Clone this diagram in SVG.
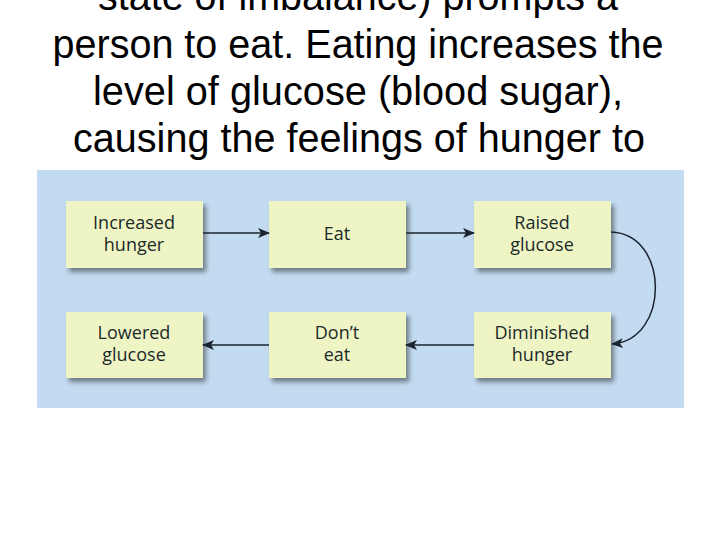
<svg xmlns="http://www.w3.org/2000/svg" width="720" height="540" viewBox="0 0 720 540">
<defs>
<filter id="sh" x="-20%" y="-20%" width="150%" height="160%">
<feGaussianBlur in="SourceAlpha" stdDeviation="2.5"/>
<feOffset dx="3" dy="4" result="b"/>
<feComponentTransfer><feFuncA type="linear" slope="0.45"/></feComponentTransfer>
<feMerge><feMergeNode/><feMergeNode in="SourceGraphic"/></feMerge>
</filter>
<marker id="ah" viewBox="0 0 12 10" refX="11" refY="5" markerWidth="12" markerHeight="10" markerUnits="userSpaceOnUse" orient="auto">
<path d="M0,0 L12,5 L0,10 L3,5 Z" fill="#1b2430"/>
</marker>
</defs>
<style>
.head{font-family:"Liberation Sans",Arial,sans-serif;font-size:41px;fill:#000;text-anchor:middle}
.box{fill:#eef4c4;filter:url(#sh)}
.lbl{font-family:"Open Sans","Noto Sans",sans-serif;font-size:18px;fill:#1c2a2a;text-anchor:middle}
.con{fill:none;stroke:#1b2430;stroke-width:1.5;marker-end:url(#ah)}
</style>
<rect width="720" height="540" fill="#fff"/>
<text class="head" x="358" y="10" textLength="520" lengthAdjust="spacingAndGlyphs">state of imbalance) prompts a</text>
<text class="head" x="358" y="58" textLength="611" lengthAdjust="spacingAndGlyphs">person to eat. Eating increases the</text>
<text class="head" x="358" y="105" textLength="530" lengthAdjust="spacingAndGlyphs">level of glucose (blood sugar),</text>
<text class="head" x="359" y="152" textLength="572" lengthAdjust="spacingAndGlyphs">causing the feelings of hunger to</text>
<rect x="37" y="170" width="647" height="238" fill="#c3dbf0"/>
<g id="n1"><rect class="box" x="66" y="201" width="137" height="67"/><text class="lbl" x="134" y="229">Increased</text><text class="lbl" x="134" y="251">hunger</text></g>
<g id="n2"><rect class="box" x="269" y="201" width="137" height="67"/><text class="lbl" x="337" y="240">Eat</text></g>
<g id="n3"><rect class="box" x="474" y="201" width="137" height="67"/><text class="lbl" x="542" y="229">Raised</text><text class="lbl" x="542" y="251">glucose</text></g>
<g id="n4"><rect class="box" x="66" y="312" width="137" height="66"/><text class="lbl" x="134" y="339">Lowered</text><text class="lbl" x="134" y="361">glucose</text></g>
<g id="n5"><rect class="box" x="269" y="312" width="137" height="66"/><text class="lbl" x="337" y="339">Don’t</text><text class="lbl" x="337" y="361">eat</text></g>
<g id="n6"><rect class="box" x="474" y="312" width="137" height="66"/><text class="lbl" x="542" y="339">Diminished</text><text class="lbl" x="542" y="361">hunger</text></g>
<g id="connectors">
<path class="con" d="M203,233 L269,233"/>
<path class="con" d="M406,233 L474,233"/>
<path class="con" d="M611,232 C670,234 670,340 612,344"/>
<path class="con" d="M474,345 L406,345"/>
<path class="con" d="M269,345 L203,345"/>
</g>
</svg>
